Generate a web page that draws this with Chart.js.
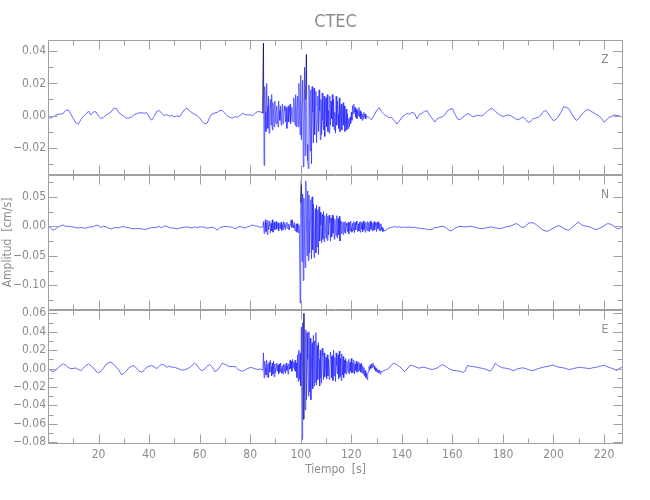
<!DOCTYPE html>
<html><head><meta charset="utf-8">
<script src="https://cdn.jsdelivr.net/npm/chart.js@4.4.0/dist/chart.umd.min.js"></script>
<style>
html,body{margin:0;padding:0;background:#fff;}
#wrap{position:relative;width:650px;height:500px;overflow:hidden;background:#fff;}
canvas{position:absolute;left:0;}
</style></head><body>
<div id="wrap">
<canvas id="cZ" width="650" height="185" style="top:0px;width:650px;height:185px"></canvas>
<canvas id="cN" width="650" height="155" style="top:165px;width:650px;height:155px"></canvas>
<canvas id="cE" width="650" height="200" style="top:300px;width:650px;height:200px"></canvas>
</div>
<script>
// Amplitudes are in units of 1e-3 cm/s; time in seconds.
// Sampling: "pre" from 0 s every 1 s, "busy" every 0.25 s, "post" every 1 s.
const zPre = [0,-1.8,-0.8,0,0.8,0.8,1.4,3.1,3.5,1.0,
 -1.8,-4.7,-5.3,-2.6,-0.4,0.8,2.7,0.4,2.3,2.3,
 -0.4,-1.8,-1.2,0.4,1.2,2.3,4.5,4.5,1.8,0.6,
 -0.4,-1.6,-1.6,-1.0,0.4,1.2,1.6,1.8,1.4,1.8,
 -0.8,-2.9,-0.6,2.5,3.1,1.4,0,0.6,-0.4,0,
 -0.8,-0.2,-0.8,1.4,3.5,4.7,2.9,1.8,0.8,0,
 -1.6,-3.7,-5.1,-4.7,-1.0,1.0,1.6,2.0,3.1,3.1,
 1.4,-0.2,-1.2,-1.6,-0.8,-1.0,0.2,1.4,0.6,0.4,
 0.4,0,1.5,2.5,2.3];
const zBusy = [1.5,45,-31,18,2,-10,20,6,
 -8,12,-11,4,10,-6,13,-9,
 8,1,-7,9,-3,-5,6,-2,
 -7,9,3,-3,6,-6,2,7,
 -5,-1,6,3,-4,5,-8,-2,
 6,-4,2,7,-5,1,5,-3,
 -4,11,2,-6,13,-7,4,12,
 -7,20,3,-12,25,-15,8,22,
 -32,-5,30,-25,10,38,-18,-28,
 -33,19,5,-22,16,-30,18,2,
 -17,17,-12,6,15,-17,-4,12,
 -10,16,3,-15,10,-12,14,-3,
 -9,12,-13,4,11,-7,13,-10,
 3,-11,12,-6,9,-2,13,-7,
 10,-9,2,-11,12,-6,9,1,
 -8,11,-10,3,7,-9,-2,8,
 -6,6,-10,-3,4,-9,1,-8,
 -2,-7,-1,-5,2,-3,6,1,
 7,2,5,-1,4,-2,3,0,
 5,-1,3,-2,2,-3,1,-2,
 2,-1,1,-2];
const zPost = [-0.4,-1.2,-2.7,0,3.1,4.9,2.3,0.6,-0.4,-1.4,
 -1.2,-3.1,-5.3,-3.5,-1.0,0,1.4,0.8,2.0,1.4,
 -2.0,0.8,1.4,2.7,2.9,0.2,-1.8,-4.1,-2.0,-1.2,
 -0.8,0.4,2.9,3.9,4.3,1.0,-2.0,-2.7,-1.0,0,
 1.2,0.6,-0.8,-0.4,0.2,-0.2,0,1.4,2.9,4.1,
 4.3,2.7,1.2,0.2,-0.6,-0.2,0.4,0,-1.0,-2.0,
 -2.7,-1.8,-0.8,-2.5,-4.3,-3.7,-1.8,-1.6,-1.0,0.2,
 2.5,3.1,1.0,-1.2,-3.3,-2.3,-0.4,2.0,5.5,5.1,
 4.3,1.6,-1.0,-3.1,-1.8,0.2,2.0,3.5,3.5,2.5,
 1.6,0.6,-0.2,-1.8,-4.1,-2.9,-1.0,-0.6,0.4,0,
 0];

const nPre = [1.1,-3.3,-6.7,-4.4,-1.1,0.6,2.2,0,0,-0.6,
 -1.1,-2.2,-2.8,-2.2,-2.8,-3.3,-1.7,-1.1,-0.6,1.7,
 1.1,-2.2,0,-1.1,-3.3,-4.4,-2.8,-2.2,-2.8,-1.1,
 -0.6,-2.2,-2.2,-3.9,-4.4,-3.9,-3.9,-4.4,-5.0,-5.0,
 -3.3,-2.2,-2.2,-1.7,0,-2.8,0.6,0,-2.2,-2.8,
 -3.3,-4.4,-3.3,-2.2,-1.7,-1.1,-2.2,-2.8,-1.1,-2.2,
 -1.1,-1.1,-1.7,-3.3,-2.2,-1.7,-3.3,-6.7,-2.2,-1.1,
 0,-0.6,-1.1,-1.7,-4.4,-2.2,0,-2.2,-2.8,-1.1,
 0.6,2.2,0.5,0,-2];
const nBusy = [-1,8,-12,3,11,-9,6,-14,
 10,-6,2,9,-11,5,-8,11,
 -10,-3,7,-6,4,8,-5,1,
 6,-8,-2,5,-4,7,-7,3,
 -6,8,-2,5,-6,1,7,-3,
 -5,4,-6,2,8,11,-2,10,
 1,-3,6,-8,-2,4,-10,5,
 -11,3,-14,-130,40,78,-60,55,
 -92,48,-20,-70,77,15,-50,60,
 -58,53,-45,10,45,-55,50,-40,
 38,-53,-10,30,-45,36,-35,28,
 -48,33,-25,24,2,-28,20,-22,
 25,-26,18,-5,-20,22,-24,17,
 -15,19,6,-25,14,-18,19,-12,
 16,-22,12,-4,-16,18,-20,13,
 -14,17,-25,10,-12,8,-3,-14,
 7,-10,8,-12,5,1,-9,7,
 -13,6,-8,9,-2,-10,5,-7,
 8,-11,6,-6,9,3,-9,4,
 -8,7,-10,8,-5,6,-9,9,
 -6,5,-10,7,-2,-7,8,-8,
 6,-9,9,-5,7,-8,5,-7,
 8,-6,6,1,-9,7,-4,8,
 -7,5,-8,4,-6,-2,-9,-5];
const nPost = [-8,-5.6,-2.8,-1.7,-0.6,-1.7,-0.6,-2.2,-1.1,-2.2,
 -1.1,-2.2,-1.7,-2.8,-3.3,-3.9,-4.4,-5.0,-5.6,-5.0,
 -2.2,-2.2,-0.6,0,-1.1,-4.4,-7.8,-6.7,-3.3,-1.1,
 0,-0.6,-1.1,-0.6,0,-0.6,-1.7,-2.8,-3.9,-3.9,
 -2.8,-2.2,-1.1,-1.7,-2.8,-3.3,-3.9,-2.8,-1.1,-0.6,
 0.6,2.2,4.4,3.3,-0.6,-2.2,0,5.0,6.1,5.6,
 3.3,0,-3.9,-6.7,-8.3,-7.8,-5.6,-2.8,-0.6,1.1,
 -0.6,-3.3,-5.6,-6.7,-3.3,0.6,4.4,6.7,2.8,1.1,
 0,-0.6,-2.2,-4.4,-5.6,-3.9,-1.7,0.6,3.9,4.4,
 2.8,0,-3.3,-4.4,-1.7];

const ePre = [0.7,-2.2,-3.3,-1.8,1.1,3.3,5.1,3.6,1.1,0,
 0,0.7,-1.1,-2.2,0.4,3.3,5.1,2.9,0.7,-2.9,
 -4.7,-2.9,0.7,4.7,6.2,6.9,4.7,1.4,-1.4,-6.5,
 -5.4,-2.5,0.7,2.5,3.3,0.4,-2.9,-3.6,-2.2,1.4,
 2.5,3.3,1.8,0,2.5,4.7,3.6,1.4,2.5,1.4,
 1.4,0.4,-0.7,-1.8,-1.4,-0.4,1.1,3.3,5.8,3.6,
 -0.4,-2.5,-0.4,2.5,4.3,1.4,-3.3,-1.8,1.8,5.8,
 4.7,2.9,2.2,2.2,2.2,-0.4,-2.2,-2.9,-1.4,0,
 1.1,0.7,-0.4,-1.1,-0.4];
const eBusy = [-1.8,17,-10,8,1,-7,9,-9,
 5,-10,7,-4,9,2,-8,6,
 -6,8,-9,5,-5,1,6,-3,
 4,-6,5,-4,6,0,-5,3,
 -6,5,-3,4,-5,6,-2,3,
 -6,5,-1,9,0,8,-3,10,
 1,7,-2,9,-3,6,-10,15,
 -14,20,-12,17,-19,45,-77,50,
 -55,60,-20,-45,42,-34,39,10,
 -30,40,-25,33,-34,5,28,-22,
 36,-19,30,-15,39,-18,25,-12,
 28,10,-19,20,-10,-16,22,14,
 -12,17,-9,2,12,-11,15,-8,
 10,-12,-6,18,13,-10,14,-13,
 20,-8,12,-14,17,3,-6,15,
 -11,19,-9,11,-13,16,-7,13,
 -10,9,-5,11,-6,8,2,-4,
 10,-6,7,-3,11,-5,6,-4,
 9,-6,5,-2,8,-4,6,-3,
 7,-2,5,-4,6,-5,3,-6,
 1,-8,-2,-10,-5,-12,-6,-3,
 2,-2,4,0,5,1,6,2,
 3,-1,1,-3,0,-4,-1,-5,
 -2,-4,-6,-3];
const ePost = [-3.6,-2.2,-1.1,0.7,4.3,5.8,4.3,2.2,0,-3.3,
 -1.1,2.9,3.6,2.2,1.1,0.4,1.4,1.4,0.4,-0.4,
 -1.1,-0.4,0.7,2.5,4.3,2.9,1.1,-0.7,-1.8,-2.2,
 -2.5,-2.9,-4.3,-2.9,3.3,2.5,2.2,1.8,1.1,0.7,
 0,-0.7,-1.8,-2.9,0.7,5.8,3.3,1.8,0.7,0.4,
 0,-1.1,-2.2,-1.4,0,0.4,0.7,0,-1.1,-1.8,
 -2.2,-1.1,0,0.7,1.4,2.2,2.5,3.3,3.6,2.5,
 1.4,1.1,0.7,0,-1.1,-0.7,0,0.7,1.4,1.1,
 0.7,0.4,0,0.4,1.1,1.4,2.2,2.9,3.6,2.2,
 1.1,0.4,-0.7,-2.2,0,1.4];

// segment start times (s) and sample steps (s)
const zSegStart = [0, 85, 126];
const nSegStart = [0, 85, 133];
const eSegStart = [0, 85, 132];
const segStep = [1, 0.25, 1];

// short time windows (s) of each trace drawn in black
const zBlackWindows = [[85, 85.25], [102, 102.25]];
const nBlackWindows = [[100, 100.25]];
const eBlackWindows = [[101, 101.25]];

const xMajorTicks = [20,40,60,80,100,120,140,160,180,200,220];
const xTickLabels = ['20','40','60','80','100','120','140','160','180','200','220'];
const zMajorTicks = [40,20,0,-20];
const zTickLabels = ['0.04','0.02','0.00','\u22120.02'];
const nMajorTicks = [50,0,-50,-100];
const nTickLabels = ['0.05','0.00','\u22120.05','\u22120.10'];
const eMajorTicks = [60,40,20,0,-20,-40,-60,-80];
const eTickLabels = ['0.06','0.04','0.02','0.00','\u22120.02','\u22120.04','\u22120.06','\u22120.08'];

const FONT = '"Liberation Sans Narrow","DejaVu Sans Condensed","Roboto Condensed","Liberation Sans",sans-serif';
const AXIS = '#a0a0a0';
const TXT = '#8c8c8c';
const LINE = '#2a2aff';

function seg(starts, arrays) {
  const out = [];
  arrays.forEach((arr, k) => {
    arr.forEach((v, i) => out.push({x: starts[k] + i * segStep[k], y: v}));
  });
  return out;
}
function windowed(points, wins) {
  const out = [];
  wins.forEach(([a, b], k) => {
    if (k > 0) out.push({x: (a + wins[k-1][1]) / 2, y: null});
    points.forEach(p => { if (p.x >= a && p.x <= b) out.push(p); });
  });
  return out;
}

const frameTicks = {
  id: 'frameTicks',
  afterDraw(chart, args, opts) {
    const {ctx, chartArea: a, scales} = chart;
    const L = Math.round(a.left) + 0.5, R = Math.round(a.right) - 0.5;
    const T = Math.round(a.top) + 0.5, B = Math.round(a.bottom) - 0.5;
    ctx.save();
    ctx.strokeStyle = AXIS; ctx.lineWidth = 1;
    ctx.beginPath();
    ctx.rect(L, T, R - L, B - T);
    scales.x.ticks.forEach(t => {
      const px = Math.round(scales.x.getPixelForValue(t.value)) + 0.5;
      const len = xMajorTicks.includes(t.value) || t.value === 0 ? 9 : 5;
      ctx.moveTo(px, B); ctx.lineTo(px, B - len);
      ctx.moveTo(px, T); ctx.lineTo(px, T + len);
    });
    scales.y.ticks.forEach(t => {
      const py = Math.round(scales.y.getPixelForValue(t.value)) + 0.5;
      const len = opts.major.includes(t.value) ? 9 : 5;
      ctx.moveTo(L, py); ctx.lineTo(L + len, py);
      ctx.moveTo(R, py); ctx.lineTo(R - len, py);
    });
    ctx.stroke();
    ctx.fillStyle = TXT;
    ctx.font = '12px ' + FONT;
    ctx.textAlign = 'center'; ctx.textBaseline = 'middle';
    ctx.fillText(opts.label, a.right - 18, a.top + 20);
    ctx.restore();
  }
};

function panel(id, data, wins, cfg) {
  return new Chart(document.getElementById(id), {
    type: 'line',
    data: { datasets: [
      { data, borderColor: LINE, borderWidth: 0.7, pointRadius: 0, tension: 0, fill: false, order: 2 },
      { data: windowed(data, wins), borderColor: '#000000', borderWidth: 0.7, pointRadius: 0, tension: 0, fill: false, spanGaps: false, order: 1 }
    ] },
    options: {
      responsive: false, animation: false, devicePixelRatio: 1,
      layout: { padding: { left: 0, right: 27, top: cfg.padTop, bottom: 0 } },
      plugins: {
        legend: { display: false }, tooltip: { enabled: false },
        title: cfg.title || { display: false },
        frameTicks: { major: cfg.major, label: cfg.label }
      },
      scales: {
        x: {
          type: 'linear', min: 0, max: 227.5,
          grid: { display: false, drawTicks: false }, border: { display: false },
          ticks: {
            display: cfg.showX, stepSize: 10, includeBounds: false, autoSkip: false, maxRotation: 0,
            padding: 4, color: TXT, font: { family: FONT, size: 12 },
            callback: v => { const i = xMajorTicks.indexOf(v); return i >= 0 ? xTickLabels[i] : ''; }
          },
          title: cfg.xTitle || { display: false },
          afterFit: s => { s.height = cfg.xHeight; }
        },
        y: {
          type: 'linear', min: cfg.min, max: cfg.max,
          grid: { display: false, drawTicks: false }, border: { display: false },
          ticks: {
            stepSize: cfg.step, includeBounds: false, autoSkip: false, padding: 2,
            color: TXT, font: { family: FONT, size: 12 },
            callback: v => { const i = cfg.major.indexOf(v); return i >= 0 ? cfg.labels[i] : ''; }
          },
          title: cfg.yTitle || { display: false },
          afterFit: s => { s.width = 48; }
        }
      }
    },
    plugins: [frameTicks]
  });
}

panel('cZ', seg(zSegStart, [zPre, zBusy, zPost]), zBlackWindows, {
  padTop: 0, xHeight: 10, showX: false, min: -37, max: 47, step: 10,
  major: zMajorTicks, labels: zTickLabels, label: 'Z',
  title: { display: true, text: 'CTEC', fullSize: false, color: TXT,
           font: { family: FONT, size: 18, weight: 'normal', lineHeight: 1.2 },
           padding: { top: 12, bottom: 6.4 } }
});
panel('cN', seg(nSegStart, [nPre, nBusy, nPost]), nBlackWindows, {
  padTop: 10, xHeight: 10, showX: false, min: -142, max: 87, step: 25,
  major: nMajorTicks, labels: nTickLabels, label: 'N',
  yTitle: { display: true, text: 'Amplitud  [cm/s]', color: TXT,
            font: { family: FONT, size: 12, lineHeight: 1.2 }, padding: { top: 1, bottom: 0 } }
});
panel('cE', seg(eSegStart, [ePre, eBusy, ePost]), eBlackWindows, {
  padTop: 10, xHeight: 56, showX: true, min: -82, max: 63.6, step: 10,
  major: eMajorTicks, labels: eTickLabels, label: 'E',
  xTitle: { display: true, text: 'Tiempo  [s]', color: TXT,
            font: { family: FONT, size: 12, lineHeight: 1.2 }, padding: { top: 0, bottom: 23 } }
});
</script>
</body></html>
